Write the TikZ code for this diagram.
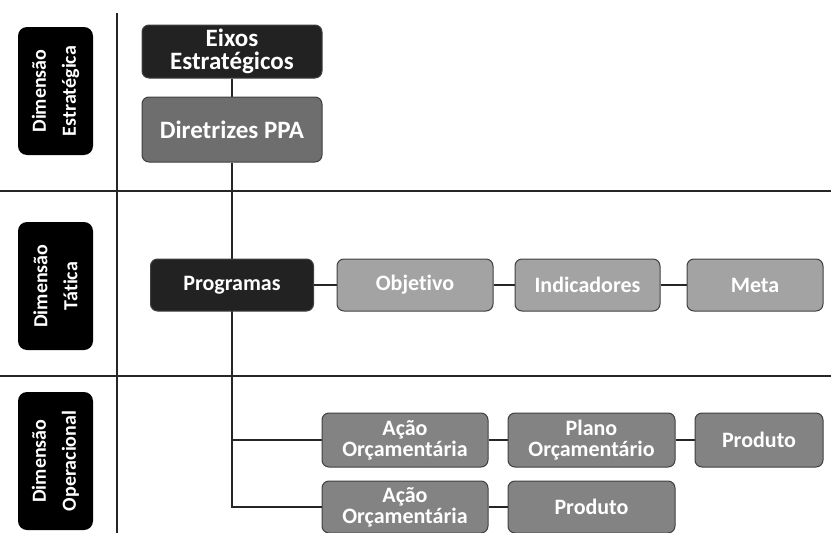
\documentclass[tikz,border=0pt]{standalone}
\usepackage{fontspec}
\setmainfont{Carlito}[Ligatures=NoCommon]
\usetikzlibrary{backgrounds}
\definecolor{escuro}{HTML}{222222}
\definecolor{medio}{HTML}{6E6E6E}
\definecolor{claro}{HTML}{A3A3A3}
\definecolor{acao}{HTML}{838383}

\begin{document}
\begin{tikzpicture}[x=1pt, y=-1pt,
    box/.style={draw=black!75, line width=1pt, rounded corners=7pt, text=white, align=center,
        inner sep=0pt, font=\fontsize{22}{21}\selectfont\bfseries},
    topo/.style={box, font=\fontsize{25}{23}\selectfont\bfseries},
    dim/.style={fill=black, rounded corners=9pt, text=white, align=center, rotate=90,
        minimum height=75pt, inner sep=0pt, font=\fontsize{20}{30}\selectfont\bfseries},
    line/.style={line width=1.3pt, black!85}]
    \useasboundingbox (0, 0) rectangle (831, 533);

    \node (dimE) [dim, minimum width=128pt] at (55.5, 91) {Dimensão\\Estratégica};
    \node (dimT) [dim, minimum width=128pt] at (55.5, 286) {Dimensão\\Tática};
    \node (dimO) [dim, minimum width=138pt] at (55.5, 461) {Dimensão\\Operacional};

    \node (eixos) [topo, fill=escuro, minimum width=180pt, minimum height=53pt] at (232, 51.5) {Eixos\\Estratégicos};
    \node (diretrizes) [topo, fill=medio, minimum width=180pt, minimum height=65pt] at (232, 129.5) {Diretrizes PPA};

    \node (programas) [box, fill=escuro, minimum width=163pt, minimum height=52pt] at (232, 285) {Programas};
    \node (objetivo) [box, fill=claro, minimum width=156pt, minimum height=52pt] at (415, 285) {Objetivo};
    \node (indicadores) [box, fill=claro, minimum width=145pt, minimum height=52pt] at (587.5, 285) {Indicadores};
    \node (meta) [box, fill=claro, minimum width=136pt, minimum height=52pt] at (755, 285) {Meta};

    \node (acao1) [box, fill=acao, minimum width=166pt, minimum height=54pt] at (405, 440) {Ação\\Orçamentária};
    \node (plano) [box, fill=acao, minimum width=167pt, minimum height=54pt] at (591.5, 440) {Plano\\Orçamentário};
    \node (produto1) [box, fill=acao, minimum width=128pt, minimum height=54pt] at (759, 440) {Produto};
    \node (acao2) [box, fill=acao, minimum width=166pt, minimum height=52pt] at (405, 507) {Ação\\Orçamentária};
    \node (produto2) [box, fill=acao, minimum width=167pt, minimum height=52pt] at (591.5, 507) {Produto};

    \begin{scope}[on background layer]
        % faixas das dimensoes
        \draw[line] (0, 191) -- (831, 191);
        \draw[line] (0, 376) -- (831, 376);
        \draw[line] (117, 13) -- (117, 533);

        \draw[line] (eixos) -- (diretrizes);
        \draw[line] (diretrizes.south) |- (acao2.west);
        \draw[line] (programas.south |- acao1.west) -- (acao1.west);
        \draw[line] (programas) -- (objetivo) -- (indicadores) -- (meta);
        \draw[line] (acao1) -- (plano) -- (produto1);
        \draw[line] (acao2) -- (produto2);
    \end{scope}
\end{tikzpicture}
\end{document}
